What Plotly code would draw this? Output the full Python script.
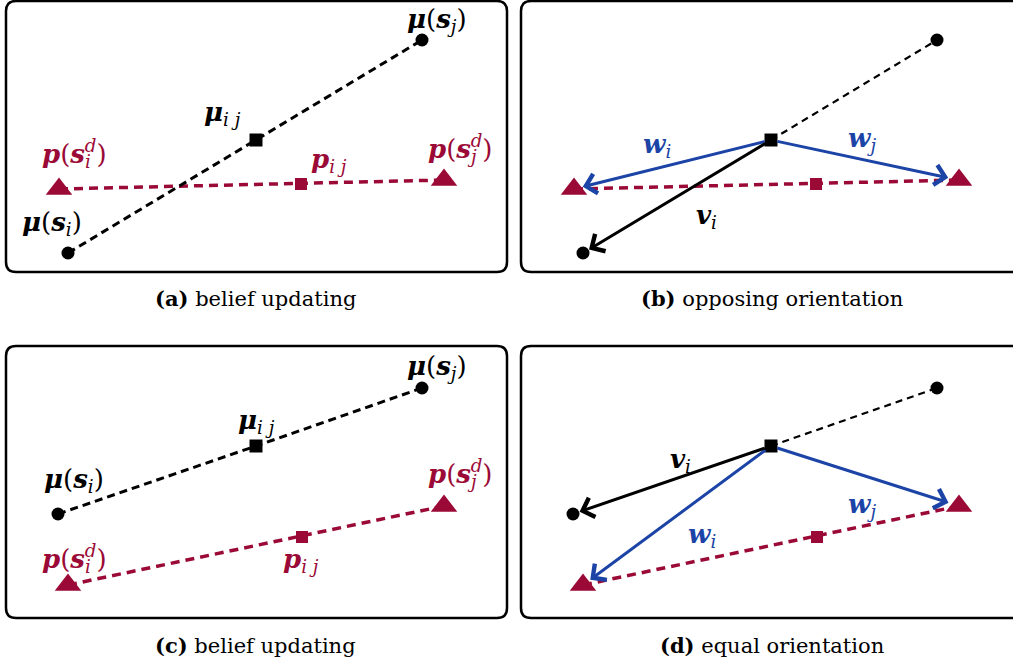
import plotly.graph_objects as go

W, H = 1013, 666
UNIT = 50.0  # pixels per local unit

# ---------------- data (local units inside each panel, origin bottom-left) ----------------
# order: [mu(s_i), mu_ij, mu(s_j)]
top_mu_x = [1.24, 5.00, 8.32]
top_mu_y = [0.38, 2.64, 4.64]
# order: [p(s_i^d), p_ij, p(s_j^d)]
top_p_x = [1.06, 5.90, 8.76]
top_p_y = [1.66, 1.76, 1.84]

bot_mu_x = [1.04, 5.00, 8.32]
bot_mu_y = [2.08, 3.44, 4.60]
bot_p_x = [1.24, 5.92, 8.76]
bot_p_y = [0.66, 1.62, 2.24]

captions = ["<b>(a)</b> belief updating", "<b>(b)</b> opposing orientation",
            "<b>(c)</b> belief updating", "<b>(d)</b> equal orientation"]

# ---------------- styles ----------------
RED = "#9b0a36"
BLUE = "#1c44a6"
BLACK = "#000000"
FONT = "DejaVu Serif"
LBL = 26

MU = "<b><i>μ</i></b>"
T_mu_si = MU + "(<b><i>s</i></b><sub><i>i</i></sub>)"
T_mu_sj = MU + "(<b><i>s</i></b><sub><i>j</i></sub>)"
T_mu_ij = MU + "<sub><i>i j</i></sub>"
T_p_si = ("<b><i>p</i></b>(<b><i>s</i></b><sub><span style=\"letter-spacing:-6px\"><i>i</i></span></sub>"
          "<sup><i>d</i></sup>)")
T_p_sj = ("<b><i>p</i></b>(<b><i>s</i></b><sub><span style=\"letter-spacing:-6px\"><i>j</i></span></sub>"
          "<sup><i>d</i></sup>)")
T_p_ij = "<b><i>p</i></b><sub><i>i j</i></sub>"
T_w_i = "<b><i>w</i></b><sub><i>i</i></sub>"
T_w_j = "<b><i>w</i></b><sub><i>j</i></sub>"
T_v_i = "<b><i>v</i></b><sub><i>i</i></sub>"

# panel boxes in page pixels (left, top, right, bottom)
panels = [
    dict(box=(6, 1, 507, 272), kind="belief", mu=(top_mu_x, top_mu_y), p=(top_p_x, top_p_y),
         cap=(256, 298),
         labels=[(T_mu_si, "mu", 0, -16, 30, BLACK), (T_mu_ij, "mu", 1, -34, 27, BLACK),
                 (T_mu_sj, "mu", 2, 15, 20, BLACK), (T_p_si, "p", 0, 15, 37, RED),
                 (T_p_ij, "p", 1, 28, 24, RED), (T_p_sj, "p", 2, 16, 32, RED)]),
    dict(box=(521, 1, 1022, 272), kind="vector", mu=(top_mu_x, top_mu_y), p=(top_p_x, top_p_y),
         cap=(772, 298),
         labels=[(T_w_i, "mu", 1, -114, -5, BLUE), (T_w_j, "mu", 1, 91, 1, BLUE),
                 (T_v_i, "mu", 1, -65, -76, BLACK)]),
    dict(box=(6, 346, 507, 618), kind="belief", mu=(bot_mu_x, bot_mu_y), p=(bot_p_x, bot_p_y),
         cap=(256, 645),
         labels=[(T_mu_si, "mu", 0, 16, 34, BLACK), (T_mu_ij, "mu", 1, 0, 24, BLACK),
                 (T_mu_sj, "mu", 2, 15, 20, BLACK), (T_p_si, "p", 0, 6, 28, RED),
                 (T_p_ij, "p", 1, -1, -23, RED), (T_p_sj, "p", 2, 16, 32, RED)]),
    dict(box=(521, 346, 1022, 618), kind="vector", mu=(bot_mu_x, bot_mu_y), p=(bot_p_x, bot_p_y),
         cap=(772, 645),
         labels=[(T_v_i, "mu", 1, -91, -15, BLACK), (T_w_i, "mu", 1, -69, -89, BLUE),
                 (T_w_j, "mu", 1, 91, -60, BLUE)]),
]

fig = go.Figure()
shapes, annotations = [], []


def rounded_rect(l, t, r, b, rad):
    def X(v):
        return v / W

    def Y(v):
        return 1 - v / H
    return (f"M {X(l+rad)} {Y(t)} L {X(r-rad)} {Y(t)} Q {X(r)} {Y(t)} {X(r)} {Y(t+rad)} "
            f"L {X(r)} {Y(b-rad)} Q {X(r)} {Y(b)} {X(r-rad)} {Y(b)} "
            f"L {X(l+rad)} {Y(b)} Q {X(l)} {Y(b)} {X(l)} {Y(b-rad)} "
            f"L {X(l)} {Y(t+rad)} Q {X(l)} {Y(t)} {X(l+rad)} {Y(t)} Z")


for k, pan in enumerate(panels):
    n = "" if k == 0 else str(k + 1)
    xa, ya = "x" + n, "y" + n
    l, t, r, b = pan["box"]
    rv = min(r, W)
    fig.update_layout({
        "xaxis" + n: dict(domain=[l / W, rv / W], range=[0, (rv - l) / UNIT], visible=False,
                          fixedrange=True, anchor=ya),
        "yaxis" + n: dict(domain=[1 - b / H, 1 - t / H], range=[0, (b - t) / UNIT], visible=False,
                          fixedrange=True, anchor=xa),
    })
    shapes.append(dict(type="path", xref="paper", yref="paper",
                       path=rounded_rect(l, t, r, b, 10),
                       line=dict(color=BLACK, width=2.5), fillcolor="rgba(0,0,0,0)", layer="below"))

    mx, my = pan["mu"]
    px, py = pan["p"]

    # red dashed line between the two projected points
    fig.add_trace(go.Scatter(x=[px[0], px[2]], y=[py[0], py[2]], mode="lines",
                             line=dict(color=RED, width=3.5, dash="9px,6px"),
                             xaxis=xa, yaxis=ya, cliponaxis=False, hoverinfo="skip"))
    if pan["kind"] == "belief":
        fig.add_trace(go.Scatter(x=mx, y=my, mode="lines",
                                 line=dict(color=BLACK, width=3, dash="8px,5px"),
                                 xaxis=xa, yaxis=ya, cliponaxis=False, hoverinfo="skip"))
    else:
        fig.add_trace(go.Scatter(x=mx[1:], y=my[1:], mode="lines",
                                 line=dict(color=BLACK, width=2.2, dash="7px,5px"),
                                 xaxis=xa, yaxis=ya, cliponaxis=False, hoverinfo="skip"))
        # arrows from mu_ij
        for (tx, ty, col, so) in [(px[0], py[0], BLUE, 9), (px[2], py[2], BLUE, 11),
                                  (mx[0], my[0], BLACK, 7)]:
            annotations.append(dict(x=tx, y=ty, xref=xa, yref=ya, ax=mx[1], ay=my[1],
                                    axref=xa, ayref=ya, text="", showarrow=True,
                                    arrowhead=4, arrowsize=1.3, arrowwidth=3, arrowcolor=col,
                                    standoff=so, startstandoff=5))

    # markers
    fig.add_trace(go.Scatter(x=[mx[0], mx[2]], y=[my[0], my[2]], mode="markers",
                             marker=dict(symbol="circle", size=13, color=BLACK),
                             xaxis=xa, yaxis=ya, cliponaxis=False, hoverinfo="skip"))
    fig.add_trace(go.Scatter(x=[mx[1]], y=[my[1]], mode="markers",
                             marker=dict(symbol="square", size=13, color=BLACK),
                             xaxis=xa, yaxis=ya, cliponaxis=False, hoverinfo="skip"))
    fig.add_trace(go.Scatter(x=[px[0], px[2]], y=[py[0], py[2]], mode="markers",
                             marker=dict(symbol="triangle-up", size=23, color=RED),
                             xaxis=xa, yaxis=ya, cliponaxis=False, hoverinfo="skip"))
    fig.add_trace(go.Scatter(x=[px[1]], y=[py[1]], mode="markers",
                             marker=dict(symbol="square", size=12, color=RED),
                             xaxis=xa, yaxis=ya, cliponaxis=False, hoverinfo="skip"))

    # labels
    for (txt, grp, idx, dx, dy, col) in pan["labels"]:
        sx, sy = (mx, my) if grp == "mu" else (px, py)
        annotations.append(dict(x=sx[idx], y=sy[idx], xref=xa, yref=ya, text=txt,
                                showarrow=False, xshift=dx, yshift=dy,
                                xanchor="center", yanchor="middle",
                                font=dict(family=FONT, size=LBL, color=col)))

    # caption
    cx, cy = pan["cap"]
    annotations.append(dict(x=cx / W, y=1 - cy / H, xref="paper", yref="paper",
                            text=captions[k], showarrow=False, xanchor="center", yanchor="middle",
                            font=dict(family=FONT, size=21, color=BLACK)))

fig.update_layout(width=W, height=H, margin=dict(l=0, r=0, t=0, b=0),
                  paper_bgcolor="white", plot_bgcolor="rgba(0,0,0,0)",
                  showlegend=False, shapes=shapes, annotations=annotations)

fig.write_html("out.html")
